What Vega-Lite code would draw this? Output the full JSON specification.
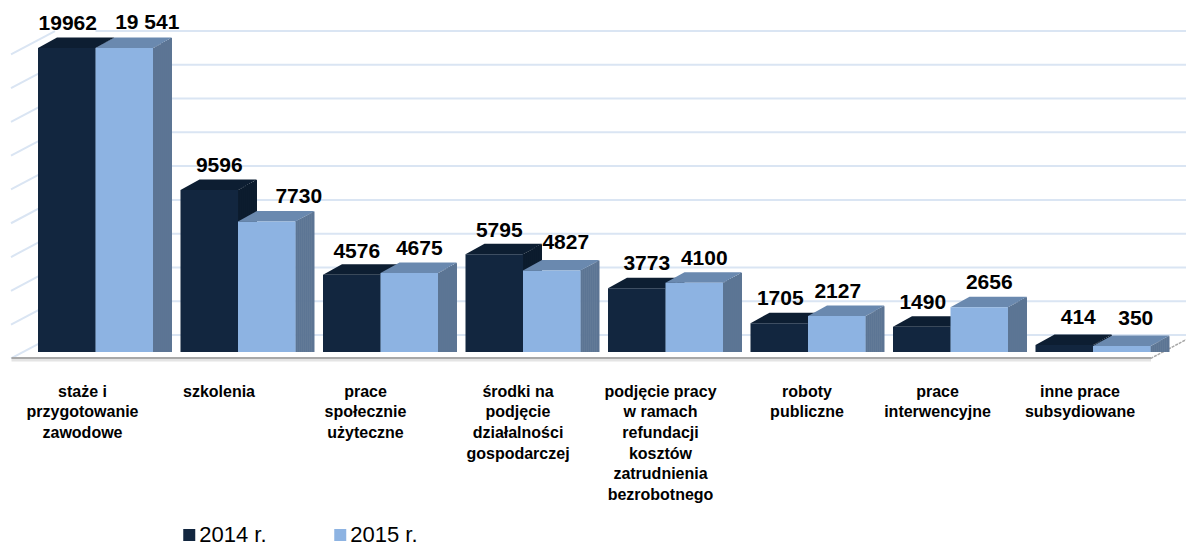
{"$schema":"https://vega.github.io/schema/vega-lite/v6.json","width":1140,"height":304,"autosize":{"type":"none"},"padding":{"left":24.25,"top":48,"right":21.75,"bottom":191},"background":"white","config":{"view":{"stroke":null},"text":{"font":"Liberation Sans"}},
"datasets":{"grid":[{"v":0},{"v":2000},{"v":4000},{"v":6000},{"v":8000},{"v":10000},{"v":12000},{"v":14000},{"v":16000},{"v":18000}]},
"data":{"values":[
{"kategoria":"staże i|przygotowanie|zawodowe","rok":"2014 r.","wartosc":19962,"etykieta":"19962"},
{"kategoria":"staże i|przygotowanie|zawodowe","rok":"2015 r.","wartosc":19541,"etykieta":"19 541"},
{"kategoria":"szkolenia","rok":"2014 r.","wartosc":9596,"etykieta":"9596"},
{"kategoria":"szkolenia","rok":"2015 r.","wartosc":7730,"etykieta":"7730"},
{"kategoria":"prace|społecznie|użyteczne","rok":"2014 r.","wartosc":4576,"etykieta":"4576"},
{"kategoria":"prace|społecznie|użyteczne","rok":"2015 r.","wartosc":4675,"etykieta":"4675"},
{"kategoria":"środki na|podjęcie|działalności|gospodarczej","rok":"2014 r.","wartosc":5795,"etykieta":"5795"},
{"kategoria":"środki na|podjęcie|działalności|gospodarczej","rok":"2015 r.","wartosc":4827,"etykieta":"4827"},
{"kategoria":"podjęcie pracy|w ramach|refundacji|kosztów|zatrudnienia|bezrobotnego","rok":"2014 r.","wartosc":3773,"etykieta":"3773"},
{"kategoria":"podjęcie pracy|w ramach|refundacji|kosztów|zatrudnienia|bezrobotnego","rok":"2015 r.","wartosc":4100,"etykieta":"4100"},
{"kategoria":"roboty|publiczne","rok":"2014 r.","wartosc":1705,"etykieta":"1705"},
{"kategoria":"roboty|publiczne","rok":"2015 r.","wartosc":2127,"etykieta":"2127"},
{"kategoria":"prace|interwencyjne","rok":"2014 r.","wartosc":1490,"etykieta":"1490"},
{"kategoria":"prace|interwencyjne","rok":"2015 r.","wartosc":2656,"etykieta":"2656"},
{"kategoria":"inne prace|subsydiowane","rok":"2014 r.","wartosc":414,"etykieta":"414"},
{"kategoria":"inne prace|subsydiowane","rok":"2015 r.","wartosc":350,"etykieta":"350"}
]},
"encoding":{
"x":{"field":"kategoria","type":"nominal","sort":null,"title":null,"scale":{"domain":["staże i|przygotowanie|zawodowe","szkolenia","prace|społecznie|użyteczne","środki na|podjęcie|działalności|gospodarczej","podjęcie pracy|w ramach|refundacji|kosztów|zatrudnienia|bezrobotnego","roboty|publiczne","prace|interwencyjne","inne prace|subsydiowane"],"paddingInner":0.193,"paddingOuter":0.0965},"axis":{"domain":false,"ticks":false,"labelAngle":0,"labelFont":"Liberation Sans","labelFontWeight":"bold","labelFontSize":16,"labelColor":"#000","labelBaseline":"top","labelPadding":31,"labelLineHeight":20.7,"labelLimit":0,"labelOverlap":false,"labelExpr":"split(datum.label,'|')","labelOffset":{"condition":[{"test":"datum.value=='szkolenia'","value":-19},{"test":"indexof(datum.value,'prace|sp')==0","value":-15},{"test":"indexof(datum.value,'środki')==0","value":-5},{"test":"indexof(datum.value,'podjęcie')==0","value":-5},{"test":"indexof(datum.value,'roboty')==0","value":-1}],"value":-13}}},
"xOffset":{"field":"rok","type":"nominal","scale":{"domain":["2014 r.","2015 r."]}},
"y":{"field":"wartosc","type":"quantitative","stack":null,"title":null,"axis":null,"scale":{"domain":[0,18000],"clamp":true,"nice":false}}
},
"layer":[
{"data":{"name":"grid"},"mark":{"type":"rule","stroke":"#DAE5F3","strokeWidth":2,"x2Offset":93,"yOffset":-17,"y2Offset":-17},"encoding":{"x":{"datum":"staże i|przygotowanie|zawodowe"},"x2":{"datum":"inne prace|subsydiowane"},"xOffset":null,"y":{"field":"v","type":"quantitative"}}},
{"data":{"name":"grid"},"mark":{"type":"point","filled":false,"stroke":"#DAE5F3","strokeWidth":2,"shape":"M-1,0.53L1,-0.53","size":1936,"opacity":1,"yOffset":-5.3},"encoding":{"x":{"datum":"staże i|przygotowanie|zawodowe"},"xOffset":{"value":-5},"y":{"field":"v","type":"quantitative"}}},
{"data":{"values":[{"v":0}]},"mark":{"type":"rule","stroke":"#E4E4E4","strokeWidth":3,"xOffset":-84,"x2Offset":58,"yOffset":8},"encoding":{"x":{"datum":"staże i|przygotowanie|zawodowe"},"x2":{"datum":"inne prace|subsydiowane"},"xOffset":null,"y":{"field":"v","type":"quantitative"}}},
{"data":{"values":[{"v":0}]},"mark":{"type":"rule","stroke":"#A8A8A8","strokeWidth":2,"xOffset":-84,"x2Offset":58,"yOffset":6},"encoding":{"x":{"datum":"staże i|przygotowanie|zawodowe"},"x2":{"datum":"inne prace|subsydiowane"},"xOffset":null,"y":{"field":"v","type":"quantitative"}}},
{"data":{"values":[{"v":0}]},"mark":{"type":"point","filled":false,"stroke":"#A8A8A8","strokeWidth":1.5,"strokeDash":[3,1],"shape":"M-1,0.53L1,-0.53","size":1296,"opacity":1,"yOffset":-3},"encoding":{"x":{"datum":"inne prace|subsydiowane"},"xOffset":{"value":133},"y":{"field":"v","type":"quantitative"}}},

{"transform":[{"filter":"datum.rok=='2014 r.'"}],"mark":{"type":"rule","stroke":"#0C1C2E","strokeWidth":2.6,"yOffset":-0.55},"encoding":{"xOffset":{"value":58.5},"y2":{"datum":0}}},
{"transform":[{"filter":"datum.rok=='2014 r.'"}],"mark":{"type":"rule","stroke":"#0C1C2E","strokeWidth":2.6,"yOffset":-1.65},"encoding":{"xOffset":{"value":60.5},"y2":{"datum":0}}},
{"transform":[{"filter":"datum.rok=='2014 r.'"}],"mark":{"type":"rule","stroke":"#0C1C2E","strokeWidth":2.6,"yOffset":-2.75},"encoding":{"xOffset":{"value":62.5},"y2":{"datum":0}}},
{"transform":[{"filter":"datum.rok=='2014 r.'"}],"mark":{"type":"rule","stroke":"#0C1C2E","strokeWidth":2.6,"yOffset":-3.85},"encoding":{"xOffset":{"value":64.5},"y2":{"datum":0}}},
{"transform":[{"filter":"datum.rok=='2014 r.'"}],"mark":{"type":"rule","stroke":"#0C1C2E","strokeWidth":2.6,"yOffset":-4.95},"encoding":{"xOffset":{"value":66.5},"y2":{"datum":0}}},
{"transform":[{"filter":"datum.rok=='2014 r.'"}],"mark":{"type":"rule","stroke":"#0C1C2E","strokeWidth":2.6,"yOffset":-6.05},"encoding":{"xOffset":{"value":68.5},"y2":{"datum":0}}},
{"transform":[{"filter":"datum.rok=='2014 r.'"}],"mark":{"type":"rule","stroke":"#0C1C2E","strokeWidth":2.6,"yOffset":-7.15},"encoding":{"xOffset":{"value":70.5},"y2":{"datum":0}}},
{"transform":[{"filter":"datum.rok=='2014 r.'"}],"mark":{"type":"rule","stroke":"#0C1C2E","strokeWidth":2.6,"yOffset":-8.25},"encoding":{"xOffset":{"value":72.5},"y2":{"datum":0}}},
{"transform":[{"filter":"datum.rok=='2014 r.'"}],"mark":{"type":"rule","stroke":"#0C1C2E","strokeWidth":2.6,"yOffset":-9.35},"encoding":{"xOffset":{"value":74.5},"y2":{"datum":0}}},
{"transform":[{"filter":"datum.rok=='2014 r.'"}],"mark":{"type":"rule","stroke":"#0C1C2E","strokeWidth":2,"yOffset":-9.9},"encoding":{"xOffset":{"value":75.5},"y2":{"datum":0}}},
{"transform":[{"filter":"datum.rok=='2014 r.'"}],"mark":{"type":"point","filled":true,"fill":"#0D1E32","stroke":null,"opacity":1,"size":4,"shape":"M-38.25,5.25L19.25,5.25L38.25,-5.25L-19.25,-5.25Z","yOffset":-5.25},"encoding":{"xOffset":{"value":38.25}}},
{"transform":[{"filter":"datum.rok=='2014 r.'"}],"mark":{"type":"bar"},"encoding":{"color":{"field":"rok","type":"nominal","title":null,"scale":{"domain":["2014 r.","2015 r."],"range":["#12263F","#8DB3E2"]},"legend":{"orient":"none","legendX":154,"legendY":476,"direction":"horizontal","symbolType":"square","symbolSize":144,"symbolStrokeWidth":0,"labelFont":"Liberation Sans","labelFontSize":22,"labelColor":"#000","labelOffset":-1,"columnPadding":62,"labelLimit":0}}}},

{"transform":[{"filter":"datum.rok=='2015 r.'"}],"mark":{"type":"rule","stroke":"#5C7594","strokeWidth":2.6,"yOffset":-0.55},"encoding":{"xOffset":{"value":116},"y2":{"datum":0}}},
{"transform":[{"filter":"datum.rok=='2015 r.'"}],"mark":{"type":"rule","stroke":"#5C7594","strokeWidth":2.6,"yOffset":-1.65},"encoding":{"xOffset":{"value":118},"y2":{"datum":0}}},
{"transform":[{"filter":"datum.rok=='2015 r.'"}],"mark":{"type":"rule","stroke":"#5C7594","strokeWidth":2.6,"yOffset":-2.75},"encoding":{"xOffset":{"value":120},"y2":{"datum":0}}},
{"transform":[{"filter":"datum.rok=='2015 r.'"}],"mark":{"type":"rule","stroke":"#5C7594","strokeWidth":2.6,"yOffset":-3.85},"encoding":{"xOffset":{"value":122},"y2":{"datum":0}}},
{"transform":[{"filter":"datum.rok=='2015 r.'"}],"mark":{"type":"rule","stroke":"#5C7594","strokeWidth":2.6,"yOffset":-4.95},"encoding":{"xOffset":{"value":124},"y2":{"datum":0}}},
{"transform":[{"filter":"datum.rok=='2015 r.'"}],"mark":{"type":"rule","stroke":"#5C7594","strokeWidth":2.6,"yOffset":-6.05},"encoding":{"xOffset":{"value":126},"y2":{"datum":0}}},
{"transform":[{"filter":"datum.rok=='2015 r.'"}],"mark":{"type":"rule","stroke":"#5C7594","strokeWidth":2.6,"yOffset":-7.15},"encoding":{"xOffset":{"value":128},"y2":{"datum":0}}},
{"transform":[{"filter":"datum.rok=='2015 r.'"}],"mark":{"type":"rule","stroke":"#5C7594","strokeWidth":2.6,"yOffset":-8.25},"encoding":{"xOffset":{"value":130},"y2":{"datum":0}}},
{"transform":[{"filter":"datum.rok=='2015 r.'"}],"mark":{"type":"rule","stroke":"#5C7594","strokeWidth":2.6,"yOffset":-9.35},"encoding":{"xOffset":{"value":132},"y2":{"datum":0}}},
{"transform":[{"filter":"datum.rok=='2015 r.'"}],"mark":{"type":"rule","stroke":"#5C7594","strokeWidth":2,"yOffset":-9.9},"encoding":{"xOffset":{"value":133},"y2":{"datum":0}}},
{"transform":[{"filter":"datum.rok=='2015 r.'"}],"mark":{"type":"point","filled":true,"fill":"#6A89AF","stroke":null,"opacity":1,"size":4,"shape":"M-38.25,5.25L19.25,5.25L38.25,-5.25L-19.25,-5.25Z","yOffset":-5.25},"encoding":{"xOffset":{"value":95.75}}},
{"transform":[{"filter":"datum.rok=='2015 r.'"}],"mark":{"type":"bar"},"encoding":{"color":{"field":"rok","type":"nominal","title":null,"scale":{"domain":["2014 r.","2015 r."],"range":["#12263F","#8DB3E2"]}}}},

{"transform":[{"filter":{"field":"etykieta","oneOf":["19962","1705","1490","2127"]}}],"mark":{"type":"text","fontWeight":"bold","fontSize":21,"color":"#000","baseline":"middle","dy":-24,"dx":1},"encoding":{"text":{"field":"etykieta"}}},
{"transform":[{"filter":{"field":"etykieta","oneOf":["4576","5795"]}}],"mark":{"type":"text","fontWeight":"bold","fontSize":21,"color":"#000","baseline":"middle","dy":-23,"dx":5},"encoding":{"text":{"field":"etykieta"}}},
{"transform":[{"filter":{"field":"etykieta","oneOf":["9596","3773","4675","4100","2656"]}}],"mark":{"type":"text","fontWeight":"bold","fontSize":21,"color":"#000","baseline":"middle","dy":-24,"dx":10},"encoding":{"text":{"field":"etykieta"}}},
{"transform":[{"filter":{"field":"etykieta","oneOf":["414","4827","350"]}}],"mark":{"type":"text","fontWeight":"bold","fontSize":21,"color":"#000","baseline":"middle","dy":-27,"dx":14},"encoding":{"text":{"field":"etykieta"}}},
{"transform":[{"filter":{"field":"etykieta","oneOf":["19 541"]}}],"mark":{"type":"text","fontWeight":"bold","fontSize":21,"color":"#000","baseline":"middle","dy":-25,"dx":23},"encoding":{"text":{"field":"etykieta"}}},
{"transform":[{"filter":{"field":"etykieta","oneOf":["7730"]}}],"mark":{"type":"text","fontWeight":"bold","fontSize":21,"color":"#000","baseline":"middle","dy":-24,"dx":32},"encoding":{"text":{"field":"etykieta"}}}
]}
